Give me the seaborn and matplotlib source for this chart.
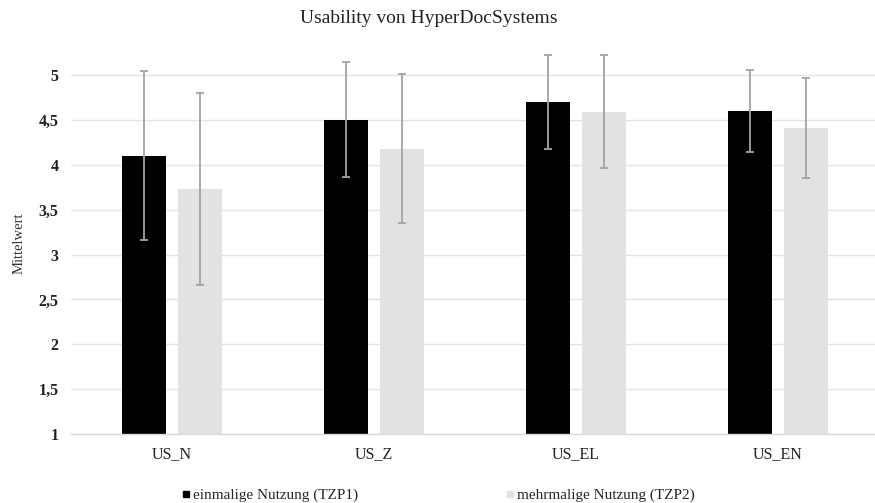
import matplotlib
matplotlib.use("Agg")
import matplotlib.pyplot as plt
import seaborn as sns
import pandas as pd
from matplotlib.lines import Line2D
from matplotlib.ticker import FuncFormatter

# Mean usability ratings and standard deviations per subscale
categories = ["US_N", "US_Z", "US_EL", "US_EN"]
series_names = ["einmalige Nutzung (TZP1)", "mehrmalige Nutzung (TZP2)"]
tzp1_mean = [4.10, 4.50, 4.70, 4.60]
tzp1_sd = [0.94, 0.64, 0.52, 0.46]
tzp2_mean = [3.73, 4.18, 4.59, 4.41]
tzp2_sd = [1.07, 0.83, 0.63, 0.56]
y_ticks = [1, 1.5, 2, 2.5, 3, 3.5, 4, 4.5, 5]

df = pd.DataFrame({
    "Skala": categories * 2,
    "Gruppe": [series_names[0]] * 4 + [series_names[1]] * 4,
    "Mittelwert": tzp1_mean + tzp2_mean,
})

sns.set_theme(style="white")
plt.rcParams["font.family"] = ["Liberation Serif", "DejaVu Serif"]

colors = ["#000000", "#e2e2e2"]

fig = plt.figure(figsize=(8.75, 5.03), dpi=100)
ax = fig.add_axes([0.081, 0.137, 0.919, 0.7585])

sns.barplot(data=df, x="Skala", y="Mittelwert", hue="Gruppe",
            hue_order=series_names, palette=colors, errorbar=None,
            width=0.555, gap=0.21, linewidth=0, ax=ax, legend=False,
            zorder=2)

# Standard deviation whiskers centred on each bar
for container, means, sds in zip(ax.containers, [tzp1_mean, tzp2_mean], [tzp1_sd, tzp2_sd]):
    xs = [p.get_x() + p.get_width() / 2 for p in container]
    ax.errorbar(xs, means, yerr=sds, fmt="none", ecolor="#a3a3a3",
                elinewidth=1.3, capsize=3, capthick=1.3, zorder=3)

ax.set_ylim(1, 5.25)
ax.set_xlim(-0.5, 3.48)
ax.set_yticks(y_ticks)
ax.yaxis.set_major_formatter(FuncFormatter(
    lambda v, _: (f"{v:g}").replace(".", ",")))
ax.grid(axis="y", color="#e4e4e4", linewidth=1.0, zorder=0)
ax.set_axisbelow(True)

for side in ["top", "right", "left"]:
    ax.spines[side].set_visible(False)
ax.spines["bottom"].set_color("#d9d9d9")
ax.spines["bottom"].set_linewidth(1.0)

ax.tick_params(axis="both", length=0)
ax.tick_params(axis="y", pad=9)
ax.tick_params(axis="x", pad=9)
for lbl in ax.get_yticklabels():
    lbl.set_fontweight("bold")
    lbl.set_fontsize(11.5)
    lbl.set_color("#222222")
for lbl in ax.get_xticklabels():
    lbl.set_fontsize(11.5)
    lbl.set_color("#222222")

ax.set_xlabel("")
ax.set_ylabel("Mittelwert", fontsize=10.5, color="#333333", labelpad=9)

fig.suptitle("Usability von HyperDocSystems", x=0.49, y=0.98,
             fontsize=14, color="#222222")

handles = [Line2D([0], [0], marker="s", linestyle="none", markersize=5,
                  markerfacecolor=c, markeredgecolor=c) for c in colors]
fig.legend(handles, series_names, loc="lower center", ncol=2,
           bbox_to_anchor=(0.499, -0.026), frameon=False, fontsize=11,
           handletextpad=0.0, columnspacing=9.4, handlelength=1.0)

fig.savefig("out.png", dpi=100)
